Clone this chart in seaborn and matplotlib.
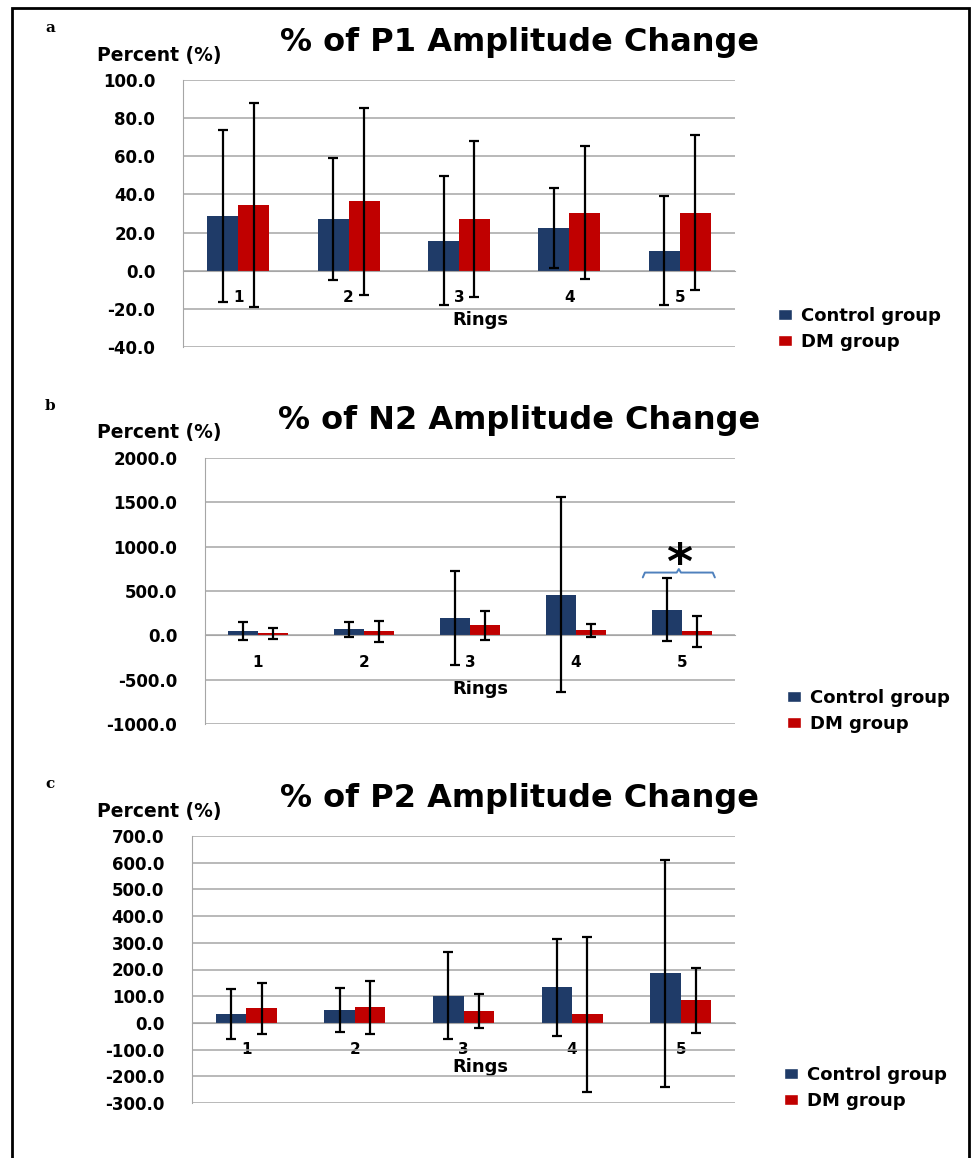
import numpy as np
import pandas as pd
import matplotlib
matplotlib.use("Agg")
import matplotlib.pyplot as plt
import seaborn as sns
from matplotlib.patches import Patch, Rectangle
from matplotlib.ticker import FormatStrFormatter

rings = ["1", "2", "3", "4", "5"]
groups = ["Control group", "DM group"]

# % of P1 amplitude change, mean and SD
p1_control = [28.6, 27.2, 15.8, 22.6, 10.5]
p1_control_sd = [45.0, 32.0, 34.0, 21.0, 28.5]
p1_dm = [34.7, 36.5, 27.2, 30.4, 30.4]
p1_dm_sd = [53.5, 49.0, 41.0, 35.0, 40.5]

# % of N2 amplitude change
n2_control = [45, 66, 195, 460, 290]
n2_control_sd = [100, 88, 535, 1100, 355]
n2_dm = [22, 45, 115, 55, 45]
n2_dm_sd = [58, 115, 165, 70, 175]

# % of P2 amplitude change
p2_control = [33, 48, 101, 133, 186]
p2_control_sd = [93, 82, 163, 182, 425]
p2_dm = [55, 58, 45, 32, 84]
p2_dm_sd = [95, 100, 64, 289, 122]

navy = "#1F3B68"
red = "#C00000"
gridc = "#A6A6A6"

sns.set_style("white")
plt.rcParams["font.family"] = ["DejaVu Sans"]
plt.rcParams["font.weight"] = "bold"
plt.rcParams["axes.labelweight"] = "bold"
plt.rcParams["text.color"] = "black"
plt.rcParams["axes.labelcolor"] = "black"
plt.rcParams["xtick.color"] = "black"
plt.rcParams["ytick.color"] = "black"

W, H = 972, 1158
fig = plt.figure(figsize=(W / 100, H / 100), dpi=100)


def fx(x):
    return x / W


def fy(y):
    return 1 - y / H


def draw_panel(rect, letter, title, ticks, ctrl, ctrl_sd, dm, dm_sd, ly, leg):
    left, top, right, bottom = rect
    ax = fig.add_axes([fx(left), fy(bottom), (right - left) / W, (bottom - top) / H])
    df = pd.DataFrame({
        "Ring": rings * 2,
        "Group": [groups[0]] * 5 + [groups[1]] * 5,
        "Value": ctrl + dm,
    })
    sns.barplot(data=df, x="Ring", y="Value", hue="Group", palette=[navy, red],
                width=0.56, gap=0, errorbar=None, saturation=1, legend=False,
                linewidth=0, ax=ax)
    for cont, sd in zip(ax.containers, [ctrl_sd, dm_sd]):
        xs = [b.get_x() + b.get_width() / 2 for b in cont]
        ys = [b.get_height() for b in cont]
        ax.errorbar(xs, ys, yerr=sd, fmt="none", ecolor="black", elinewidth=1.6,
                    capsize=3.5, capthick=1.6, zorder=3)

    ax.set_xlim(-0.5, 4.5)
    ax.set_ylim(ticks[0], ticks[-1])
    ax.set_yticks(ticks)
    ax.yaxis.set_major_formatter(FormatStrFormatter("%.1f"))
    ax.grid(axis="y", color=gridc, lw=1.1)
    ax.set_axisbelow(True)
    ax.spines[["top", "right"]].set_visible(False)
    ax.spines["left"].set_color(gridc)
    ax.spines["bottom"].set_position(("data", 0))
    ax.spines["bottom"].set_color(gridc)
    ax.set_xticks(np.arange(-0.5, 5, 1))
    ax.set_xticklabels([])
    ax.set_xticks(range(5), minor=True)
    ax.set_xticklabels(rings, minor=True, fontsize=11)
    ax.tick_params(axis="x", which="major", length=3, color=gridc, direction="out")
    ax.tick_params(axis="x", which="minor", length=0, pad=14)
    ax.tick_params(axis="y", length=6, color=gridc, labelcolor="black", pad=14, labelsize=12)
    ax.set_ylabel("")
    ax.set_xlabel("Rings", fontsize=13, fontweight="bold")
    ax.xaxis.set_label_coords(fx(480), fy(ly), transform=fig.transFigure)
    ax.xaxis.label.set_verticalalignment("center")

    fig.text(fx(50), fy(top - 52), letter, family="DejaVu Serif", fontsize=11,
             ha="center", va="center")
    fig.text(fx(159), fy(top - 25), "Percent (%)", fontsize=13.5, ha="center", va="center")
    fig.text(fx(519), fy(top - 37), title, fontsize=23, ha="center", va="center")

    handles = [Patch(facecolor=navy, label=groups[0]), Patch(facecolor=red, label=groups[1])]
    fig.legend(handles=handles, loc="upper left", bbox_to_anchor=(fx(leg[0]), fy(leg[1])),
               frameon=False, fontsize=13, handlelength=0.8, handleheight=0.6,
               handletextpad=0.5, labelspacing=0.45, borderaxespad=0, borderpad=0)
    return ax


draw_panel((183, 80, 735, 347), "a", "% of P1 Amplitude Change",
           np.arange(-40, 101, 20), p1_control, p1_control_sd, p1_dm, p1_dm_sd,
           320, (778, 307))

axb = draw_panel((205, 458, 735, 724), "b", "% of N2 Amplitude Change",
                 np.arange(-1000, 2001, 500), n2_control, n2_control_sd, n2_dm, n2_dm_sd,
                 689, (787, 689))

# significance bracket and asterisk on ring 5
bx0, bx1, by = 4 - 0.37, 4 + 0.31, 708
bm = (bx0 + bx1) / 2
axb.plot([bx0, bx0 + 0.02, bm - 0.02, bm, bm + 0.02, bx1 - 0.02, bx1],
         [by - 55, by, by, by + 40, by, by, by - 55], color="#4F81BD", lw=1.4)
axb.text(bm, 630, "*", fontsize=36, ha="center", va="baseline")

draw_panel((192, 836, 735, 1103), "c", "% of P2 Amplitude Change",
           np.arange(-300, 701, 100), p2_control, p2_control_sd, p2_dm, p2_dm_sd,
           1067, (784, 1066))

fig.add_artist(Rectangle((fx(12), -0.05), (969 - 12) / W, fy(8) + 0.05,
                         transform=fig.transFigure, fill=False, lw=2, ec="black"))

fig.savefig("out.png", dpi=100)
